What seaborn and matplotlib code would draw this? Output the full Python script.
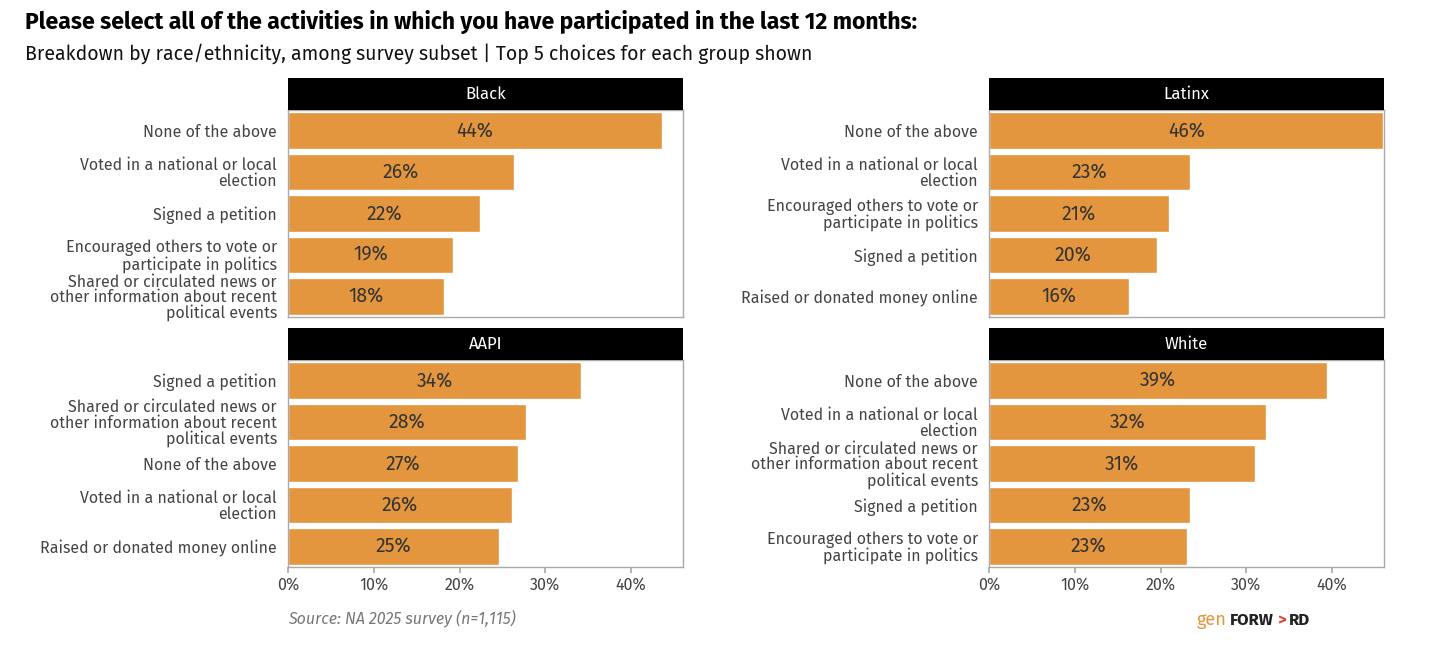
import matplotlib
matplotlib.use("Agg")
import matplotlib.pyplot as plt
import seaborn as sns
import pandas as pd

sns.set_theme(style="white")
plt.rcParams['font.family'] = ['Fira Sans', 'Open Sans', 'DejaVu Sans']

groups = ["Black", "Latinx", "AAPI", "White"]
black_cats = ["None of the above", "Voted in a national or local\nelection", "Signed a petition",
              "Encouraged others to vote or\nparticipate in politics",
              "Shared or circulated news or\nother information about recent\npolitical events"]
black_vals = [43.6, 26.3, 22.4, 19.2, 18.2]
latinx_cats = ["None of the above", "Voted in a national or local\nelection",
               "Encouraged others to vote or\nparticipate in politics", "Signed a petition",
               "Raised or donated money online"]
latinx_vals = [46.0, 23.4, 21.0, 19.6, 16.3]
aapi_cats = ["Signed a petition",
             "Shared or circulated news or\nother information about recent\npolitical events",
             "None of the above", "Voted in a national or local\nelection", "Raised or donated money online"]
aapi_vals = [34.2, 27.7, 26.8, 26.1, 24.6]
white_cats = ["None of the above", "Voted in a national or local\nelection",
              "Shared or circulated news or\nother information about recent\npolitical events",
              "Signed a petition", "Encouraged others to vote or\nparticipate in politics"]
white_vals = [39.4, 32.3, 31.0, 23.4, 23.1]
xticks = [0, 10, 20, 30, 40]

data = {"Black": (black_cats, black_vals), "Latinx": (latinx_cats, latinx_vals),
        "AAPI": (aapi_cats, aapi_vals), "White": (white_cats, white_vals)}

W, H = 1434, 660
fig = plt.figure(figsize=(W/100, H/100), dpi=100)
pos = {"Black": (288, 110), "Latinx": (989, 110), "AAPI": (288, 360), "White": (989, 360)}
color = "#E3963E"
for g in groups:
    x0, y0 = pos[g]
    ax = fig.add_axes([x0/W, 1-(y0+207)/H, 395/W, 207/H])
    cats, vals = data[g]
    df = pd.DataFrame({"cat": cats, "val": vals})
    sns.barplot(data=df, x="val", y="cat", orient="h", color=color, saturation=1, width=0.88, ax=ax)
    ax.set_xlim(0, 46.06)
    ax.set_ylim(4.5, -0.5)
    ax.set_xlabel(""); ax.set_ylabel("")
    for i, v in enumerate(vals):
        ax.text(v/2, i, f"{round(v)}%", ha="center", va="center", fontsize=14, color="#333333")
    ax.tick_params(axis="y", labelsize=11.5, labelcolor="#444444", length=0, pad=8)
    for t in ax.get_yticklabels():
        t.set_linespacing(0.95)
    for s in ax.spines.values():
        s.set_color("#aaaaaa"); s.set_linewidth(1)
    if g in ("AAPI", "White"):
        ax.set_xticks(xticks)
        ax.set_xticklabels([f"{t}%" for t in xticks], fontsize=11.5, color="#444444")
        ax.tick_params(axis="x", length=4, color="#aaaaaa", bottom=True)
    else:
        ax.set_xticks([])
    sax = fig.add_axes([x0/W, 1-y0/H, 395/W, 32/H])
    sax.set_facecolor("black")
    sax.set_xticks([]); sax.set_yticks([])
    for s in sax.spines.values():
        s.set_visible(False)
    sax.text(0.5, 0.5, g, ha="center", va="center", color="white", fontsize=12, transform=sax.transAxes)

fig.text(25/W, 1-22/H, "Please select all of the activities in which you have participated in the last 12 months:",
         fontsize=16.5, fontweight="bold", va="center", color="black")
fig.text(25/W, 1-54/H, "Breakdown by race/ethnicity, among survey subset | Top 5 choices for each group shown",
         fontsize=14, va="center", color="#111111")
fig.text(288/W, 1-618/H, "Source: NA 2025 survey (n=1,115)", fontsize=11.5, style="italic",
         color="#777777", va="center")
fig.text(1197/W, 1-620/H, "gen", fontsize=13, color="#E3963E", va="center")
fig.text(1230/W, 1-620/H, "FORW", fontsize=12, fontweight="bold", color="#222222", va="center")
fig.text(1277/W, 1-620/H, ">", fontsize=12, fontweight="bold", color="#E04030", va="center")
fig.text(1289/W, 1-620/H, "RD", fontsize=12, fontweight="bold", color="#222222", va="center")
fig.savefig("out.png", dpi=100, facecolor="white")
